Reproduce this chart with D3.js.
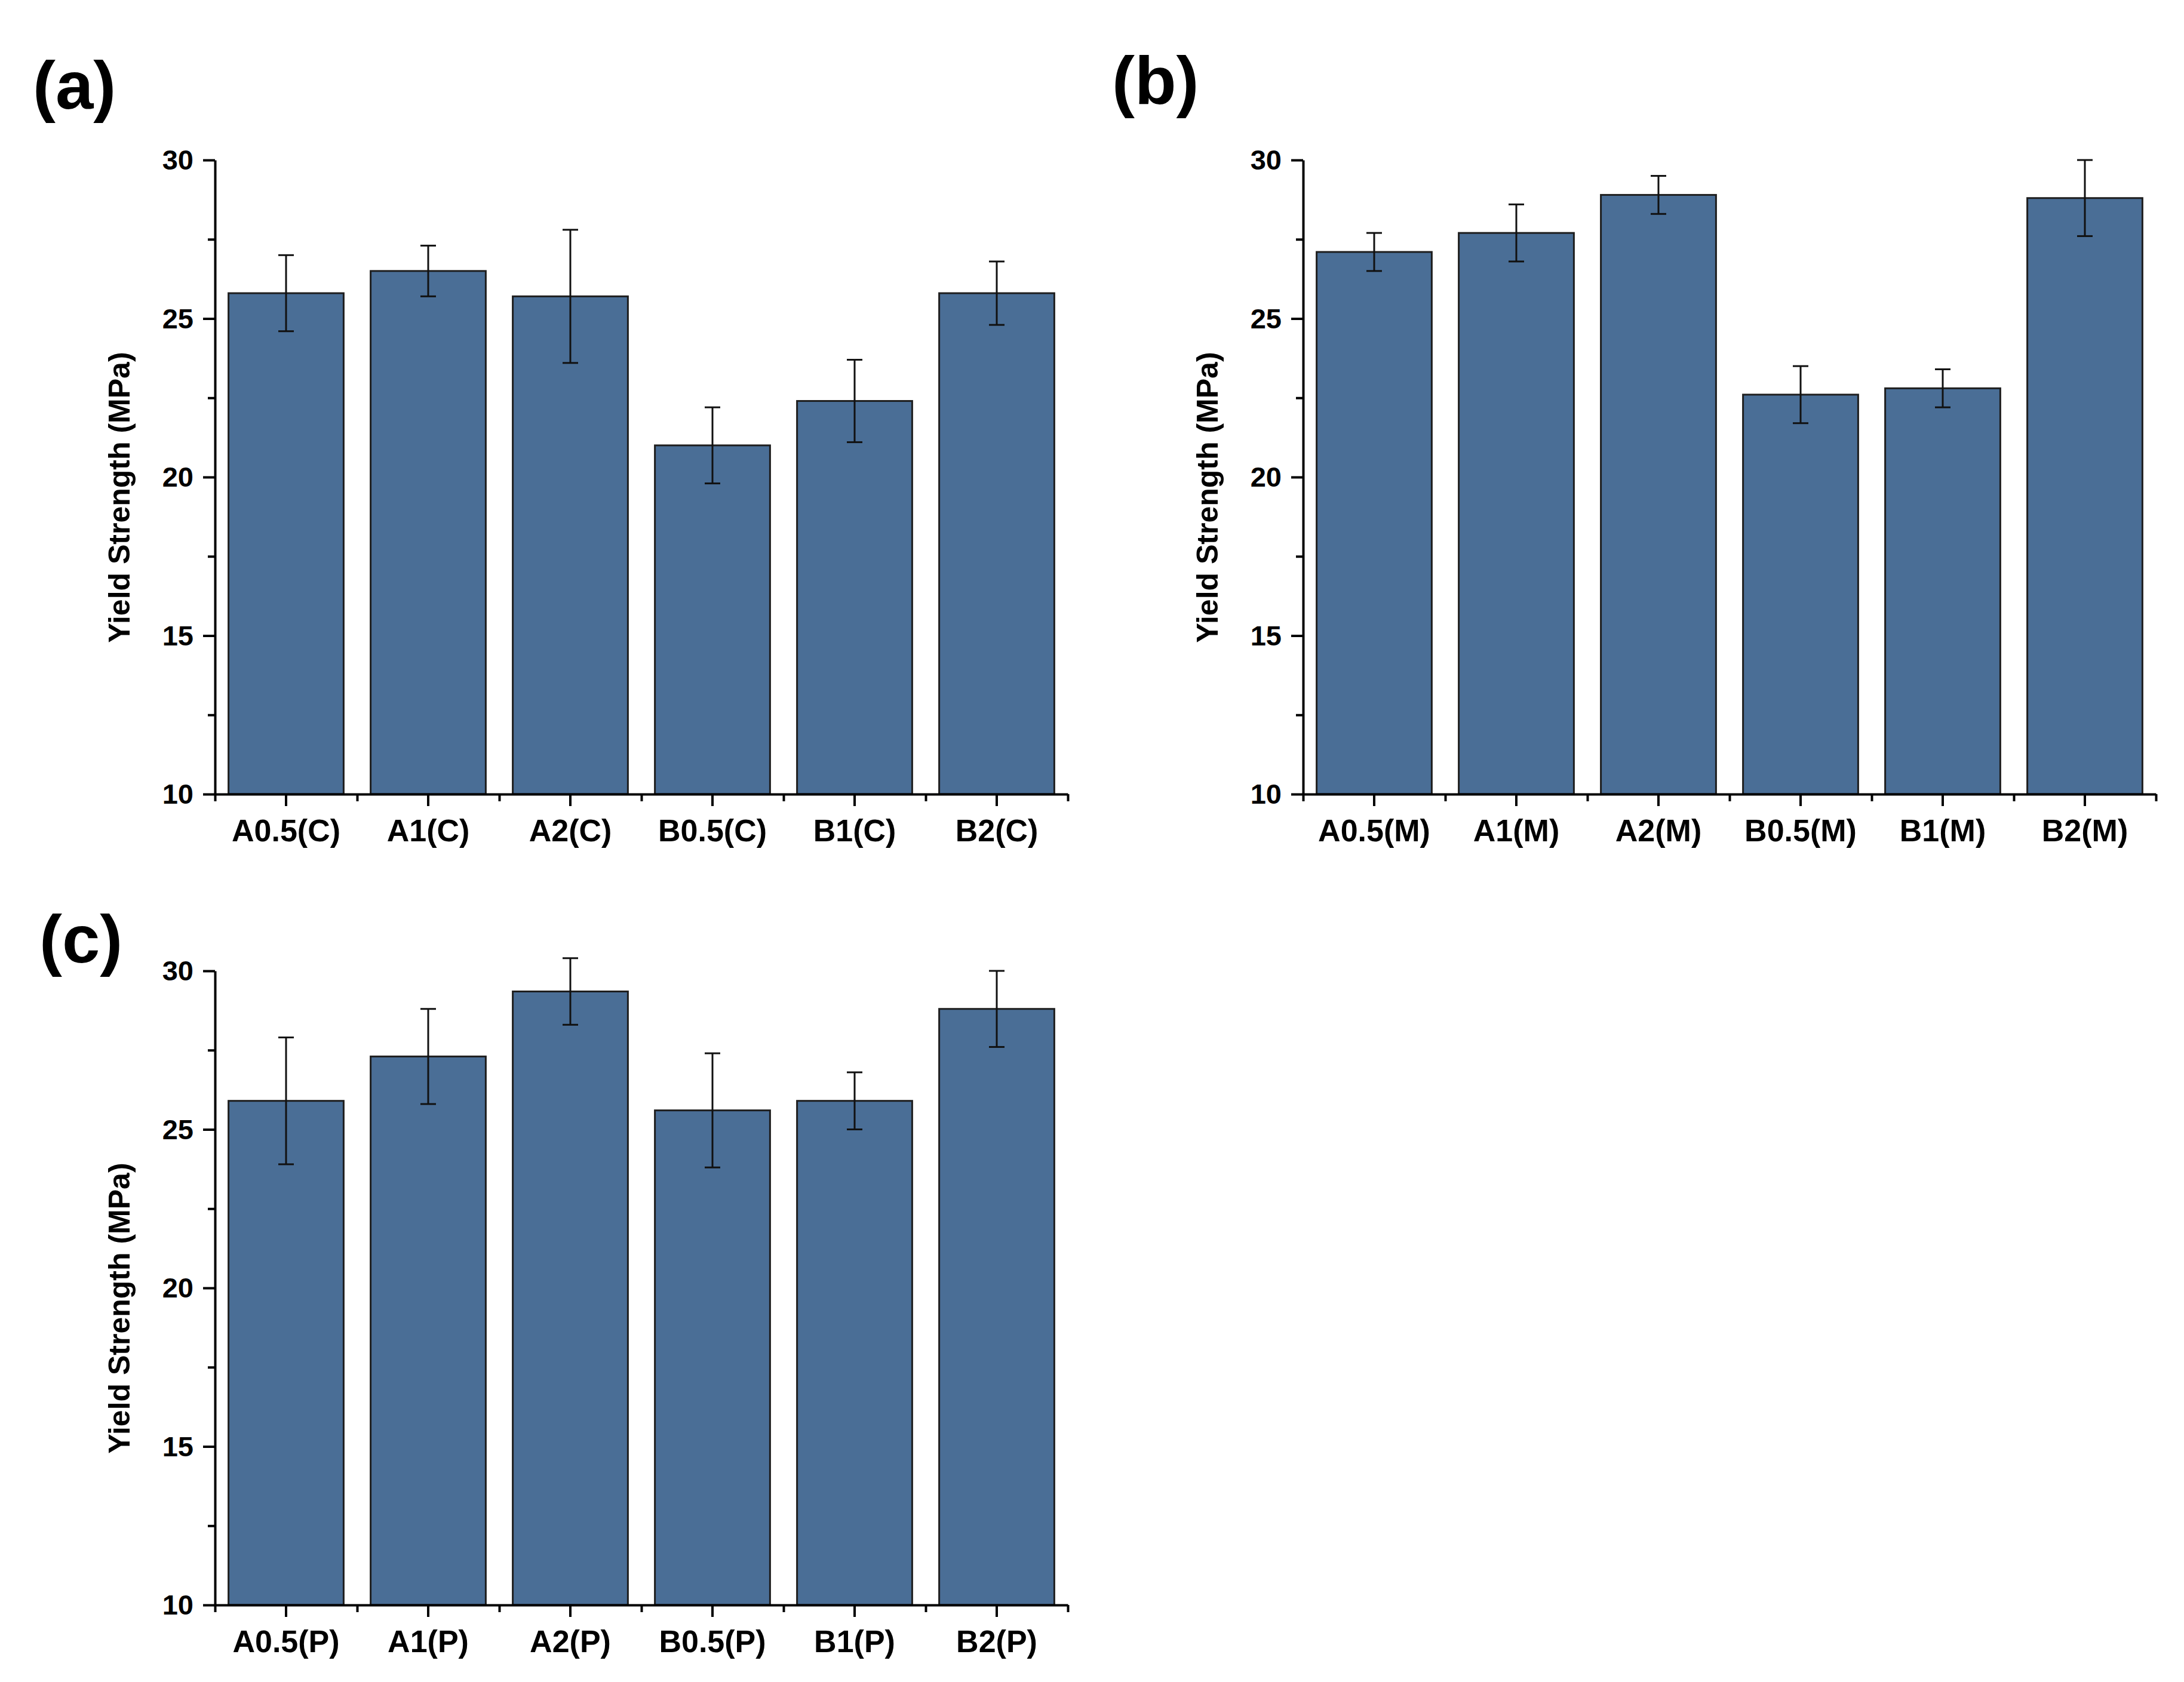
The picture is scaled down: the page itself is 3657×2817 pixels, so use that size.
<!DOCTYPE html>
<html>
<head>
<meta charset="utf-8">
<script src="https://cdn.jsdelivr.net/npm/d3@7"></script>
<style>
  body { margin: 0; background: #fff; }
  text { font-family: "Liberation Sans", Arial, sans-serif; font-weight: bold; fill: #000; }
</style>
</head>
<body>
<svg id="fig" width="3657" height="2817"></svg>
<script>
// values (MPa)
const catsC = ["A0.5(C)", "A1(C)", "A2(C)", "B0.5(C)", "B1(C)", "B2(C)"];
const meanC = [25.8, 26.5, 25.7, 21.0, 22.4, 25.8];
const errC  = [1.2, 0.8, 2.1, 1.2, 1.3, 1.0];

const catsM = ["A0.5(M)", "A1(M)", "A2(M)", "B0.5(M)", "B1(M)", "B2(M)"];
const meanM = [27.1, 27.7, 28.9, 22.6, 22.8, 28.8];
const errM  = [0.6, 0.9, 0.6, 0.9, 0.6, 1.2];

const catsP = ["A0.5(P)", "A1(P)", "A2(P)", "B0.5(P)", "B1(P)", "B2(P)"];
const meanP = [25.9, 27.3, 29.35, 25.6, 25.9, 28.8];
const errP  = [2.0, 1.5, 1.05, 1.8, 0.9, 1.2];

const yMajor = [10, 15, 20, 25, 30];
const yMinor = [12.5, 17.5, 22.5, 27.5];
const yTitle = "Yield Strength (MPa)";

var svg = d3.select('#fig');
svg.append('rect').attr('width', 3657).attr('height', 2817).style('fill', '#fff');

var panels = [
  { tag: '(a)', cats: catsC, mean: meanC, err: errC, left: 360,  top: 268,  tagX: 55,   tagY: 182 },
  { tag: '(b)', cats: catsM, mean: meanM, err: errM, left: 2182, top: 268,  tagX: 1862, tagY: 174 },
  { tag: '(c)', cats: catsP, mean: meanP, err: errP, left: 360,  top: 1626, tagX: 66,   tagY: 1612 }
];

var W = 1428, H = 1062;
var barColor = "#4a6e96";

panels.forEach(function(p) {
  var g = svg.append('g').attr('transform', `translate(${p.left},${p.top})`);

  var x = d3.scaleBand().domain(p.cats).range([0, W]).paddingInner(0.19).paddingOuter(0.095);
  var xEdge = d3.scaleLinear().domain([0, p.cats.length]).range([0, W]);
  var y = d3.scaleLinear().domain([10, 30]).range([H, 0]);

  // bars
  g.selectAll('rect.bar')
    .data(p.mean)
    .enter()
    .append('rect')
    .classed('bar', true)
    .attr('x', (d, i) => x(p.cats[i]))
    .attr('y', d => y(d))
    .attr('width', x.bandwidth())
    .attr('height', d => y(10) - y(d))
    .style('fill', barColor)
    .style('stroke', '#1e1e1e')
    .style('stroke-width', 3);

  // error bars
  var eb = g.selectAll('g.err')
    .data(p.mean)
    .enter()
    .append('g')
    .classed('err', true)
    .attr('transform', (d, i) => `translate(${x(p.cats[i]) + x.bandwidth() / 2},0)`);

  eb.append('line')
    .attr('y1', (d, i) => y(d + p.err[i]))
    .attr('y2', (d, i) => y(d - p.err[i]));
  eb.append('line')
    .attr('x1', -13).attr('x2', 13)
    .attr('y1', (d, i) => y(d + p.err[i]))
    .attr('y2', (d, i) => y(d + p.err[i]));
  eb.append('line')
    .attr('x1', -13).attr('x2', 13)
    .attr('y1', (d, i) => y(d - p.err[i]))
    .attr('y2', (d, i) => y(d - p.err[i]));
  eb.selectAll('line').style('stroke', '#111').style('stroke-width', 3);

  // y axis
  var yAxis = g.append('g')
    .call(d3.axisLeft(y).tickValues(yMajor).tickSize(20).tickSizeOuter(0).tickPadding(16));
  yAxis.selectAll('text').style('font-size', '47px').attr('dy', '0.34em');
  g.append('g')
    .call(d3.axisLeft(y).tickValues(yMinor).tickSize(12).tickFormat(''))
    .select('.domain').remove();

  // x axis
  var xAxis = g.append('g')
    .attr('transform', `translate(0,${H})`)
    .call(d3.axisBottom(x).tickSize(20).tickSizeOuter(0).tickPadding(22));
  xAxis.selectAll('text').style('font-size', '52px').attr('dy', '0.71em');
  g.append('g')
    .attr('transform', `translate(0,${H})`)
    .call(d3.axisBottom(xEdge).tickValues(d3.range(p.cats.length + 1)).tickSize(12).tickFormat(''))
    .select('.domain').remove();

  g.selectAll('.domain, .tick line').style('stroke', '#000').style('stroke-width', 4);

  // y title
  g.append('text')
    .attr('transform', `translate(-143,${H / 2 + 34}) rotate(-90)`)
    .attr('text-anchor', 'middle')
    .style('font-size', '50px')
    .text(yTitle);

  // panel tag
  svg.append('text')
    .attr('x', p.tagX)
    .attr('y', p.tagY)
    .style('font-size', '114px')
    .text(p.tag);
});
</script>
</body>
</html>
